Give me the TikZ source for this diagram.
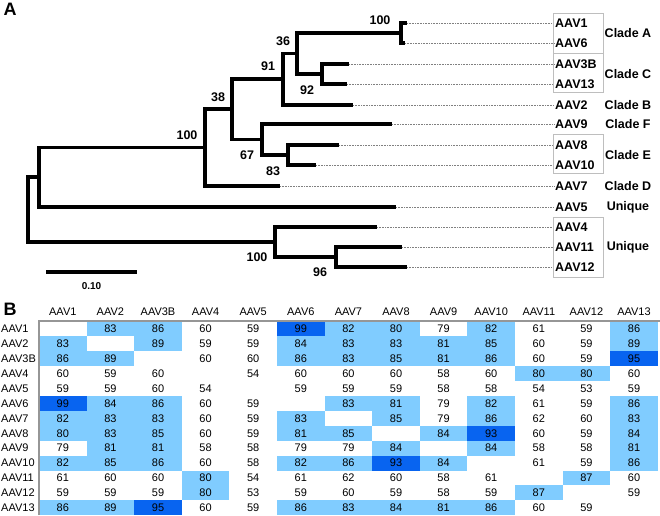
\documentclass[tikz,border=0pt]{standalone}
\usepackage{fontspec}
\setmainfont{Liberation Sans}
\usepackage{xcolor}
\definecolor{loblue}{RGB}{128,204,255}
\definecolor{hiblue}{RGB}{8,100,240}
\definecolor{rulegray}{RGB}{150,150,150}
\definecolor{boxgray}{RGB}{190,190,190}

\begin{document}
\begin{tikzpicture}
		[x=1pt,y=-1pt,
		branchDecorate/.style={line width=3.1pt,line join=miter},%
		leaderDecorate/.style={densely dotted,line width=0.6pt,gray},%
		leafDecorate/.style={anchor=west,inner sep=1pt,font=\fontsize{12.5}{14}\selectfont\bfseries},%
		cladeDecorate/.style={font=\fontsize{12.5}{14}\selectfont\bfseries},%
		bootDecorate/.style={font=\fontsize{12.5}{14}\selectfont\bfseries},%
		boxDecorate/.style={draw=boxgray,line width=0.8pt},%
		cellDecorate/.style={font=\fontsize{11}{13}\selectfont,inner sep=0pt}]
		\useasboundingbox (0,0) rectangle (660,515);
		%% panel letters
		\node[font=\fontsize{18}{20}\selectfont\bfseries] (panelA) at (10,9) {A};
		\node[font=\fontsize{18}{20}\selectfont\bfseries] (panelB) at (10,309) {B};
		%% inner nodes of the tree
		\foreach \nodename/\x/\y in {
			root/28/209.5, nIn/39/177, n100/205/147.5, n38/232/109, n91/283/79,
			n36/297/53.5, nA/401/33, n92/322/74, n67/262/139.5, n83/288/155,
			nU/275/242, n96/336/257}
		{
			\coordinate (\nodename) at (\x,\y);
		}
		%% leaves, names and dotted leaders
		\foreach \leaf/\x/\y in {
			AAV1/407/23, AAV6/405/43, AAV3B/349/64, AAV13/347/84, AAV2/353/105,
			AAV9/392/124, AAV8/339/145, AAV10/316/165, AAV7/280/186, AAV5/396/207,
			AAV4/377/227, AAV11/402/247, AAV12/407/267}
		{
			\coordinate (t\leaf) at (\x,\y);
			\node[leafDecorate] (\leaf) at (554,\y) {\leaf};
			\draw[leaderDecorate] (t\leaf) -- (\leaf.west);
		}
		%% branches
		\foreach \startnode/\endnode in {
			root/nIn, root/nU, nIn/n100, nIn/tAAV5, n100/n38, n100/tAAV7,
			n38/n91, n38/n67, n91/n36, n91/tAAV2, n36/nA, n36/n92,
			nA/tAAV1, nA/tAAV6, n92/tAAV3B, n92/tAAV13, n67/tAAV9, n67/n83,
			n83/tAAV8, n83/tAAV10, nU/tAAV4, nU/n96, n96/tAAV11, n96/tAAV12}
		{
			\draw[branchDecorate] (\startnode) |- (\endnode);
		}
		%% bootstrap values
		\foreach \bootname/\x/\y/\val in {
			b100/187/135/100, b38/218/97/38, b91/268/66/91, b36/283/41/36,
			bA/380/20/100, b92/307/90/92, b67/247/155/67, b83/273/171/83,
			bU/257/257/100, b96/320/272/96}
		{
			\node[bootDecorate] (\bootname) at (\x,\y) {\val};
		}
		%% clade boxes and names
		\draw[boxDecorate] (553,13) rectangle (603,53);
		\draw[boxDecorate] (553,53) rectangle (603,92);
		\draw[boxDecorate] (553,134) rectangle (603,173);
		\draw[boxDecorate] (553,217) rectangle (603,277);
		\foreach \cladename/\y/\txt in {
			cA/33/Clade A, cC/74/Clade C, cB/105/Clade B, cF/124/Clade F,
			cE/155/Clade E, cD/186/Clade D, cX/207/Unique, cY/247/Unique}
		{
			\node[cladeDecorate] (\cladename) at (628,\y) {\txt};
		}
		%% scale bar
		\coordinate (barL) at (46,272);
		\coordinate (barR) at (137,272);
		\draw[line width=3.1pt] (barL) -- (barR);
		\node[font=\fontsize{10}{12}\selectfont\bfseries] (barlabel) at (91.5,286) {0.10};
		%% identity table
		\foreach \h [count=\ci] in {AAV1,AAV2,AAV3B,AAV4,AAV5,AAV6,AAV7,AAV8,AAV9,AAV10,AAV11,AAV12,AAV13}
		{
			\node[cellDecorate] (h\ci) at ({39+47.6*(\ci-0.5)},312) {\h};
		}
		\foreach \ri/\rowname/\vals in {
			1/AAV1/{0,83,86,60,59,99,82,80,79,82,61,59,86},
			2/AAV2/{83,0,89,59,59,84,83,83,81,85,60,59,89},
			3/AAV3B/{86,89,0,60,60,86,83,85,81,86,60,59,95},
			4/AAV4/{60,59,60,0,54,60,60,60,58,60,80,80,60},
			5/AAV5/{59,59,60,54,0,59,59,59,58,58,54,53,59},
			6/AAV6/{99,84,86,60,59,0,83,81,79,82,61,59,86},
			7/AAV7/{82,83,83,60,59,83,0,85,79,86,62,60,83},
			8/AAV8/{80,83,85,60,59,81,85,0,84,93,60,59,84},
			9/AAV9/{79,81,81,58,58,79,79,84,0,84,58,58,81},
			10/AAV10/{82,85,86,60,58,82,86,93,84,0,61,59,86},
			11/AAV11/{61,60,60,80,54,61,62,60,58,61,0,87,60},
			12/AAV12/{59,59,59,80,53,59,60,59,58,59,87,0,59},
			13/AAV13/{86,89,95,60,59,86,83,84,81,86,60,59,0}}
		{
			\node[cellDecorate,anchor=west] (r\ri) at (1,{329+14.9*(\ri-1)}) {\rowname};
			\foreach \v [count=\ci] in \vals
			{
				\ifnum\v>89 \def\cellfill{hiblue}\else\ifnum\v>79 \def\cellfill{loblue}\else\def\cellfill{white}\fi\fi
				\fill[\cellfill] ({39+47.6*(\ci-1)},{321.5+14.9*(\ri-1)}) rectangle ({39+47.6*\ci},{321.5+14.9*\ri});
				\ifnum\v>0
					\node[cellDecorate] (c\ri-\ci) at ({39+47.6*(\ci-0.5)},{329+14.9*(\ri-1)}) {\v};
				\fi
			}
		}
		%% table rules
		\coordinate (ruleTL) at (39,321);
		\coordinate (ruleTR) at (660,321);
		\coordinate (ruleBL) at (39,515);
		\draw[rulegray,line width=1.2pt] (ruleBL) -- (ruleTL) -- (ruleTR);
	\end{tikzpicture}
\end{document}
